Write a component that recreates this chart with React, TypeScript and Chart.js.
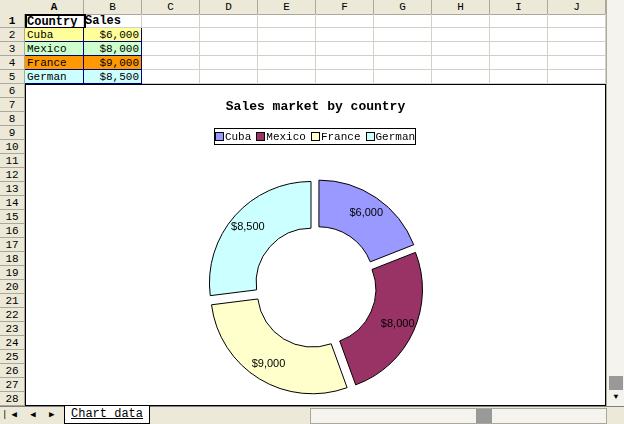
import React, { useEffect, useRef } from "react";
import Chart from "chart.js/auto";

const countries = ["Cuba", "Mexico", "France", "German"];
const sales = [6000, 8000, 9000, 8500];
const sliceColors = ["#9999ff", "#993366", "#ffffcc", "#ccffff"];
const cellColors = ["#ffff99", "#ccffcc", "#ff9900", "#ccffff"];
const columns = ["A", "B", "C", "D", "E", "F", "G", "H", "I", "J"];
const colWidths = [59, 58, 58, 58, 58, 58, 58, 58, 58, 58];

const fmt = (v: number) => "$" + v.toLocaleString("en-US");
const mono = '"Liberation Mono", "DejaVu Sans Mono", monospace';
const ROW_H = 14;
const HEAD_W = 25;

const PieChart: React.FC = () => {
  const ref = useRef<HTMLCanvasElement>(null);
  useEffect(() => {
    if (!ref.current) return;
    const chart = new Chart(ref.current, {
      type: "doughnut",
      data: {
        labels: countries,
        datasets: [
          {
            data: sales,
            backgroundColor: sliceColors,
            borderColor: "#000",
            borderWidth: 1,
            offset: 24,
          },
        ],
      },
      options: {
        animation: false,
        responsive: false,
        cutout: "54%",
        layout: { padding: { top: 88, bottom: 4 } },
        plugins: { legend: { display: false }, tooltip: { enabled: false } },
      },
      plugins: [
        {
          id: "sliceLabels",
          afterDatasetsDraw(c) {
            const ctx = c.ctx;
            ctx.save();
            ctx.font = '11px "Liberation Sans", Arial, sans-serif';
            ctx.fillStyle = "#000";
            ctx.textAlign = "center";
            ctx.textBaseline = "middle";
            c.getDatasetMeta(0).data.forEach((arc: any, i) => {
              const p = arc.tooltipPosition();
              ctx.fillText(fmt(sales[i]), p.x, p.y);
            });
            ctx.restore();
          },
        },
      ],
    });
    return () => chart.destroy();
  }, []);
  return <canvas ref={ref} width={579} height={320} style={{ display: "block" }} />;
};

const headBg = "#ece9d8";
const App: React.FC = () => {
  const colLeft = (i: number) => HEAD_W + colWidths.slice(0, i).reduce((a, b) => a + b, 0);
  return (
    <div style={{ position: "fixed", left: 0, top: 0, width: 624, height: 424, background: "#fff", overflow: "hidden", fontFamily: mono, fontSize: 12 }}>
      {/* column headers */}
      <div style={{ position: "absolute", left: 0, top: 0, width: 624, height: ROW_H, background: headBg, borderBottom: "1px solid #aca899" }} />
      {columns.map((c, i) => (
        <div key={c} style={{ position: "absolute", left: colLeft(i), top: 0, width: colWidths[i] - 1, height: ROW_H, borderRight: "1px solid #aca899", textAlign: "center", lineHeight: ROW_H + "px", fontSize: 11, fontWeight: i === 0 ? "bold" : "normal" }}>{c}</div>
      ))}
      {/* row headers and grid */}
      {Array.from({ length: 28 }, (_, r) => (
        <React.Fragment key={r}>
          <div style={{ position: "absolute", left: 0, top: ROW_H + r * ROW_H, width: HEAD_W - 1, height: ROW_H - 1, background: headBg, borderRight: "1px solid #aca899", borderBottom: "1px solid #aca899", textAlign: "center", lineHeight: ROW_H + "px", fontSize: 11, fontWeight: r === 0 ? "bold" : "normal" }}>{r + 1}</div>
          <div style={{ position: "absolute", left: HEAD_W, top: ROW_H + r * ROW_H + ROW_H - 1, width: 581, height: 1, background: "#d4d0c8" }} />
        </React.Fragment>
      ))}
      {columns.map((c, i) => (
        <div key={"g" + c} style={{ position: "absolute", left: colLeft(i + 1) - 1, top: ROW_H, width: 1, height: 392, background: "#d4d0c8" }} />
      ))}
      {/* data cells */}
      <div style={{ position: "absolute", left: HEAD_W, top: ROW_H, width: 57, height: 11, border: "2px solid #000", fontWeight: "bold", lineHeight: "12px" }}>Country</div>
      <div style={{ position: "absolute", left: 85, top: ROW_H, width: 57, height: 13, fontWeight: "bold", lineHeight: "14px" }}>Sales</div>
      {countries.map((c, i) => (
        <React.Fragment key={c}>
          <div style={{ position: "absolute", left: HEAD_W, top: ROW_H * (i + 2), width: 56, height: 13, background: cellColors[i], borderRight: "1px solid #000080", borderBottom: "1px solid #000080", lineHeight: "14px", paddingLeft: 2, fontSize: 11 }}>{c}</div>
          <div style={{ position: "absolute", left: 84, top: ROW_H * (i + 2), width: 55, height: 13, background: cellColors[i], borderRight: "1px solid #000080", borderBottom: "1px solid #000080", lineHeight: "14px", textAlign: "right", paddingRight: 2, fontSize: 11 }}>{fmt(sales[i])}</div>
        </React.Fragment>
      ))}
      {/* chart object */}
      <div style={{ position: "absolute", left: HEAD_W, top: 84, width: 579, height: 320, border: "1px solid #000", background: "#fff" }}>
        <PieChart />
        <div style={{ position: "absolute", left: 0, top: 14, width: 579, textAlign: "center", fontWeight: "bold", fontSize: 13 }}>Sales market by country</div>
        <div style={{ position: "absolute", left: 188, top: 43, width: 200, height: 15, border: "1px solid #000", display: "flex", alignItems: "center", justifyContent: "center", gap: 5, fontSize: 11 }}>
          {countries.map((c, i) => (
            <span key={c} style={{ display: "flex", alignItems: "center" }}>
              <span style={{ width: 7, height: 7, background: sliceColors[i], border: "1px solid #000", marginRight: 1 }} />
              {c}
            </span>
          ))}
        </div>
      </div>
      {/* vertical scrollbar */}
      <div style={{ position: "absolute", left: 606, top: 0, width: 18, height: 406, background: "#f4f3ee", borderLeft: "1px solid #aca899" }}>
        <div style={{ position: "absolute", left: 2, top: 376, width: 14, height: 14, background: "#999" }} />
        <div style={{ position: "absolute", left: 2, top: 390, width: 14, height: 14, textAlign: "center", fontSize: 8, lineHeight: "14px" }}>▼</div>
      </div>
      {/* tab bar */}
      <div style={{ position: "absolute", left: 0, top: 406, width: 624, height: 18, background: headBg, borderTop: "1px solid #808080", fontSize: 12 }}>
        <div style={{ position: "absolute", left: 2, top: 2, fontSize: 9, letterSpacing: 4 }}>|◀ ◀ ▶ ▶|</div>
        <div style={{ position: "absolute", left: 64, top: -1, height: 17, padding: "0 6px", background: "#fff", borderLeft: "1px solid #000", borderRight: "1px solid #000", borderBottom: "1px solid #000", textDecoration: "underline", lineHeight: "17px" }}>Chart data</div>
        <div style={{ position: "absolute", left: 310, top: 1, width: 295, height: 14, background: "#f4f3ee", border: "1px solid #aca899" }}>
          <div style={{ position: "absolute", left: 165, top: 0, width: 16, height: 14, background: "#999" }} />
        </div>
      </div>
    </div>
  );
};

export default App;
